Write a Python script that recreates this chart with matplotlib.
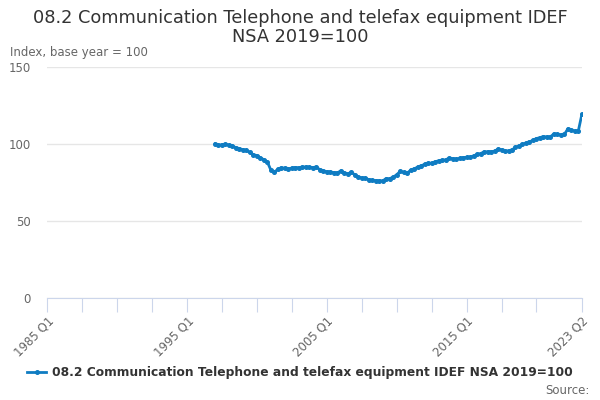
import numpy as np
import matplotlib
matplotlib.use("Agg")
import matplotlib.pyplot as plt

# quarterly periods, 1985 Q1 .. 2023 Q2
years = np.arange(1985, 2024)
periods = [f"{y} Q{q}" for y in years for q in range(1, 5)][:154]

# series starts in 1997 Q1
start_period = "1997 Q1"
index_values = [
    100.0, 99.2, 99.6, 99.8, 99.3, 98.8, 97.5, 97.0, 96.3, 95.8,
    94.5, 93.0, 92.5, 91.0, 89.8, 88.2, 83.0, 81.8, 83.5, 84.5,
    84.2, 83.8, 84.3, 84.7, 84.6, 84.9, 85.1, 84.8, 84.7, 85.0,
    83.3, 82.5, 82.0, 81.8, 81.4, 81.2, 82.5, 81.3, 80.6, 81.6,
    80.0, 78.5, 78.0, 77.8, 76.8, 76.3, 76.2, 76.0, 76.1, 77.4,
    77.5, 78.4, 80.0, 82.2, 81.5, 81.0, 83.0, 83.8, 85.0, 85.8,
    86.8, 87.5, 87.5, 88.4, 89.1, 89.4, 89.7, 90.8, 90.5, 90.2,
    90.6, 91.2, 91.3, 91.4, 92.3, 93.2, 93.8, 94.8, 95.0, 95.0,
    95.3, 96.7, 96.3, 95.3, 95.6, 96.2, 97.8, 98.8, 99.8, 100.6,
    101.5, 102.3, 103.5, 104.2, 104.8, 104.6, 104.7, 106.6, 106.2, 106.0,
    106.3, 109.9, 109.0, 108.5, 108.7, 119.3,
]

label_periods = ["1985 Q1", "1995 Q1", "2005 Q1", "2015 Q1", "2023 Q2"]
y_ticks = [0, 50, 100, 150]

TITLE = "08.2 Communication Telephone and telefax equipment IDEF\nNSA 2019=100"
SERIES = "08.2 Communication Telephone and telefax equipment IDEF NSA 2019=100"
LINE_COLOR = "#0f7cc2"

fig = plt.figure(figsize=(6, 4), dpi=100)
ax = fig.add_axes([0.0788, 0.256, 0.891, 0.576])

s = periods.index(start_period)
x = np.arange(s, s + len(index_values))
ax.plot(x, index_values, color=LINE_COLOR, lw=2, marker="o", ms=2.6,
        label=SERIES, zorder=3)

ax.set_xlim(0, len(periods) - 1)
ax.set_ylim(0, 150)
ax.set_yticks(y_ticks)
ax.yaxis.grid(True, color="#e6e6e6", lw=1)
ax.set_axisbelow(True)

tick_pos = list(range(0, len(periods) - 10, 10)) + [len(periods) - 1]
ax.set_xticks(tick_pos)
ax.set_xticklabels([periods[i] if periods[i] in label_periods else "" for i in tick_pos],
                   rotation=45, ha="right", rotation_mode="anchor")

for side in ["top", "right", "left"]:
    ax.spines[side].set_visible(False)
ax.spines["bottom"].set_color("#ccd6eb")
ax.tick_params(axis="x", length=10, color="#ccd6eb", labelcolor="#666666",
               labelsize=8.5, pad=2)
ax.tick_params(axis="y", length=0, labelcolor="#666666", labelsize=8.5, pad=12)

fig.text(0.5, 0.978, TITLE, ha="center", va="top", fontsize=12.8,
         color="#333333", linespacing=1.1)
fig.text(0.017, 0.868, "Index, base year = 100", ha="left", va="center",
         fontsize=8.5, color="#666666")

leg = fig.legend(loc="center", bbox_to_anchor=(0.5, 0.068), frameon=False,
                 fontsize=8.8, handlelength=1.6, handletextpad=0.5)
for t in leg.get_texts():
    t.set_color("#333333")
    t.set_fontweight("bold")
fig.text(0.982, 0.025, "Source:", ha="right", va="center", fontsize=8.5,
         color="#666666")

fig.savefig("out.png", dpi=100)
